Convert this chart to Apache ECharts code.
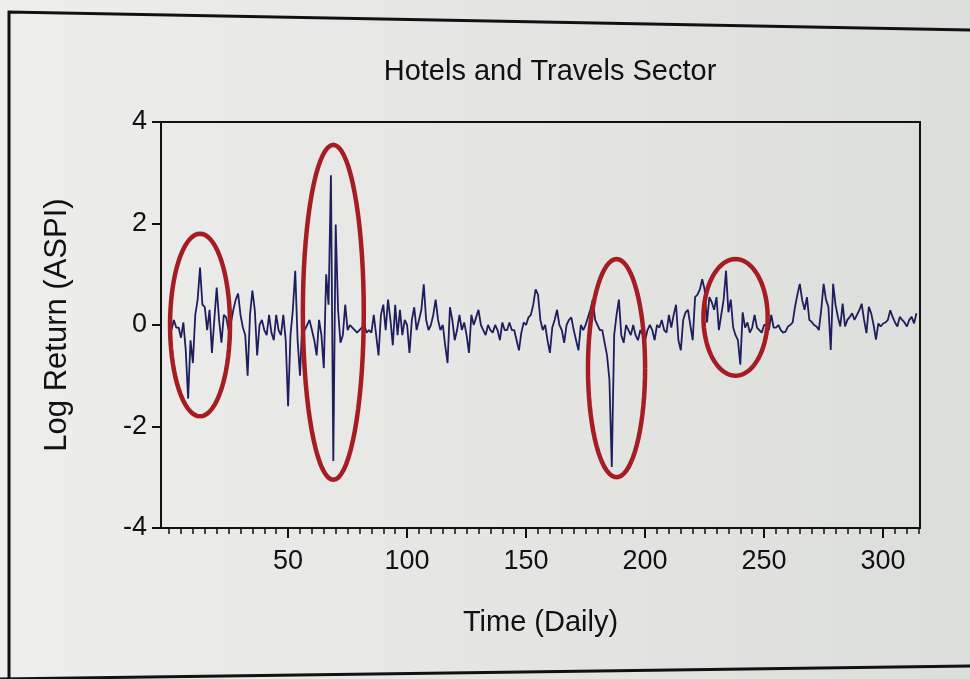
<!DOCTYPE html>
<html><head><meta charset="utf-8">
<script src="https://cdn.jsdelivr.net/npm/echarts@6/dist/echarts.min.js"></script>
<style>html,body{margin:0;padding:0;background:#e6e7e5}#c{width:970px;height:679px}</style>
</head><body><div id="c"></div>
<script>
// Log return values, one per trading day
const logReturn = [
 0.05,-0.1,0.1,-0.05,-0.05,-0.25,0.05,-0.5,-1.45,-0.3,
 -0.75,0.2,0.5,1.13,0.4,0.35,-0.1,0.3,-0.55,0.1,
 0.74,0.1,-0.35,0.2,0.15,-0.1,0.05,0.3,0.5,0.62,
 0.2,-0.05,-0.2,-1.0,0.2,0.68,0.3,-0.6,0.0,0.1,
 -0.1,-0.2,0.2,-0.15,-0.3,0.2,-0.1,-0.2,0.2,-0.3,
 -1.6,-0.2,0.3,1.07,-0.3,-1.0,0.1,-0.1,0.0,0.1,
 -0.1,-0.3,-0.6,0.1,-0.2,-0.85,1.0,0.4,2.95,-2.68,
 1.98,0.3,-0.35,-0.2,0.4,-0.1,0.0,-0.05,-0.1,-0.15,
 -0.1,-0.05,0.0,-0.15,-0.1,-0.15,0.2,-0.2,-0.6,0.2,
 0.4,-0.1,0.5,0.1,-0.4,0.4,-0.2,0.3,-0.2,0.1,
 0.0,-0.55,0.1,0.35,-0.1,0.1,0.3,0.8,0.1,-0.1,
 0.0,0.2,0.5,0.1,-0.1,0.0,-0.4,-0.75,0.35,0.1,
 -0.3,-0.1,0.2,-0.1,0.05,-0.2,-0.55,0.2,0.0,0.15,
 0.3,0.0,-0.1,-0.2,0.0,-0.1,-0.15,0.0,-0.1,-0.3,
 0.05,-0.1,-0.1,0.05,-0.1,-0.1,-0.3,-0.5,-0.15,0.05,
 0.0,0.15,0.2,0.4,0.7,0.6,0.1,-0.1,0.0,-0.3,
 -0.55,-0.05,0.1,0.3,0.0,-0.1,-0.35,0.0,0.1,0.15,
 -0.1,-0.3,-0.5,0.0,-0.1,0.0,0.15,0.3,0.5,0.1,
 0.0,-0.1,-0.1,-0.35,-0.6,-1.07,-2.8,-0.2,0.2,0.5,
 -0.2,-0.35,0.0,-0.1,-0.2,0.0,-0.2,-0.3,-0.1,-0.2,
 -0.3,-0.1,0.0,-0.1,-0.3,0.0,-0.05,0.1,-0.1,-0.15,
 0.2,-0.05,0.2,0.4,-0.3,-0.5,0.1,0.25,0.3,0.0,
 -0.3,0.55,0.6,0.7,0.9,0.7,0.05,0.55,0.45,0.3,
 0.55,-0.1,0.2,0.5,1.07,0.25,0.5,-0.05,-0.2,-0.3,
 -0.78,0.25,-0.05,0.05,-0.15,-0.05,0.2,-0.05,-0.1,-0.15,
 0.0,0.0,-0.1,0.2,-0.05,-0.05,0.0,-0.1,-0.15,-0.13,
 -0.03,0.0,0.05,0.36,0.6,0.81,0.49,0.3,0.55,0.1,
 0.06,0.0,-0.03,-0.1,0.3,0.81,0.5,0.36,-0.49,0.81,
 0.4,0.16,-0.03,0.42,-0.03,0.1,0.16,0.23,0.1,0.2,
 0.29,0.42,0.1,-0.16,0.36,0.23,0.0,-0.29,0.03,-0.03,
 0.03,0.05,0.1,0.29,0.16,0.05,-0.03,0.16,0.1,0.05,
 -0.03,0.1,0.16,0.03,0.23
];
const days = logReturn.map((_, i) => i);
const xTickLabels = [50, 100, 150, 200, 250, 300];
const xMinorTicks = [];
for (let v = 0; v <= 315; v += 5) xMinorTicks.push(v);
// highlighted episodes: [centre day, centre value, half-width days, half-height]
const highlights = [
 [13, 0.0, 12.6, 1.8],
 [69, 0.25, 12.8, 3.3],
 [188, -0.85, 12, 2.15],
 [238, 0.15, 13.5, 1.15]
];

const chart = echarts.init(document.getElementById('c'));
const font = '"Liberation Sans", Arial, sans-serif';
const frame = [
  {type:'polyline', silent:true, shape:{points:[[9,679],[9,12],[970,30]]}, style:{stroke:'#111', lineWidth:3, fill:null}},
  {type:'line', silent:true, shape:{x1:0, y1:679, x2:970, y2:666}, style:{stroke:'#111', lineWidth:3}}
];
chart.setOption({
  backgroundColor: {type:'linear',x:0,y:0,x2:1,y2:0,colorStops:[{offset:0,color:'#eeeeec'},{offset:1,color:'#dcdedc'}]},
  animation: false,
  title: {text:'Hotels and Travels Sector', left: 545, top: 52, textAlign:'center',
    textStyle:{fontFamily:font, fontSize:29, fontWeight:'normal', color:'#111'}},
  grid: {left:161, right:50, top:122, bottom:151, show:true, borderColor:'#111', borderWidth:2, backgroundColor:'transparent'},
  xAxis: [{
    type:'value', min:-3.4, max:315.5, position:'bottom',
    axisLine:{show:true, onZero:false, lineStyle:{color:'#111', width:2}},
    axisTick:{show:true, customValues:xMinorTicks, length:6, inside:false, lineStyle:{color:'#111', width:1.5}},
    axisLabel:{show:false}, splitLine:{show:false}
  },{
    type:'value', min:-3.4, max:315.5, position:'bottom',
    name:'Time (Daily)', nameLocation:'middle', nameGap:80,
    nameTextStyle:{fontFamily:font, fontSize:29, color:'#111'},
    axisLine:{show:false, onZero:false},
    axisTick:{show:true, customValues:xTickLabels, length:10, lineStyle:{color:'#111', width:2}},
    axisLabel:{customValues:xTickLabels, fontFamily:font, fontSize:27, color:'#111', margin:20},
    splitLine:{show:false}
  }],
  yAxis: {
    type:'value', min:-4, max:4, interval:2,
    name:'Log Return (ASPI)', nameLocation:'middle', nameGap:88,
    nameTextStyle:{fontFamily:font, fontSize:31, color:'#111'},
    axisLine:{show:true, onZero:false, lineStyle:{color:'#111', width:2}},
    axisTick:{show:true, length:9, lineStyle:{color:'#111', width:2}},
    axisLabel:{fontFamily:font, fontSize:27, color:'#111', margin:14},
    splitLine:{show:false}
  },
  series: [{
    type:'line', xAxisIndex:0, yAxisIndex:0,
    data: days.map((d, i) => [d, logReturn[i]]),
    showSymbol:false, symbol:'none',
    lineStyle:{color:'#1e1e5e', width:1.8}
  }],
  graphic: frame
});

// annotation ellipses placed in data coordinates
const ell = highlights.map(h => {
  const pts = [];
  for (let k = 0; k <= 72; k++) {
    const a = k / 72 * Math.PI * 2;
    pts.push(chart.convertToPixel({xAxisIndex:0, yAxisIndex:0}, [h[0] + h[2]*Math.cos(a), h[1] + h[3]*Math.sin(a)]));
  }
  return {type:'polyline', silent:true, z:100, shape:{points:pts}, style:{stroke:'#a51c22', lineWidth:4.5, fill:null}};
});
chart.setOption({graphic: frame.concat(ell)}, {replaceMerge:['graphic']});
</script></body></html>
